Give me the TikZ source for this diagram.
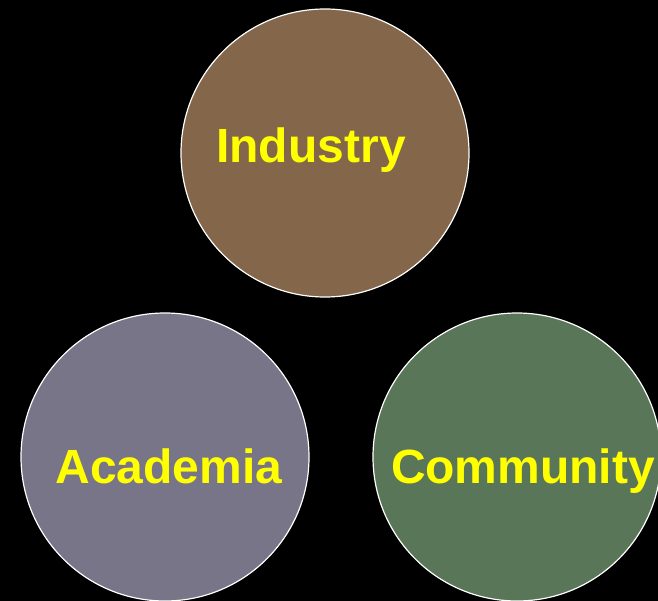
\documentclass[tikz,border=0pt]{standalone}
\usepackage{fontspec}
\setmainfont{Liberation Sans}
\usetikzlibrary{positioning}

\definecolor{indbrown}{HTML}{84674A}
\definecolor{acagray}{HTML}{777587}
\definecolor{comgreen}{HTML}{5A7659}
\definecolor{lblyellow}{HTML}{FFFF00}

\begin{document}
\begin{tikzpicture}[x=1pt, y=-1pt]
	\fill[black] (0,0) rectangle (658,601);
	\useasboundingbox (0,0) rectangle (658,601);
	\begin{scope}
		\tikzstyle{every node}=[inner sep=0pt]
		\tikzstyle{sector}=[circle, draw=white, line width=1.2pt, minimum size=288pt]
		\tikzstyle{sectorlbl}=[anchor=base, text=lblyellow, font=\bfseries\fontsize{48}{56}\selectfont]

		\node[sector, fill=indbrown] (ind) at (325, 153) {};
		\node[sector, fill=acagray]  (aca) at (165, 457) {};
		\node[sector, fill=comgreen] (com) at (517, 457) {};

		\node[sectorlbl] (indlbl) at (311, 163) {Industry};
		\node[sectorlbl] (acalbl) at (169, 483) {Academia};
		\node[sectorlbl] (comlbl) at (523, 483) {Community};
	\end{scope}
\end{tikzpicture}
\end{document}
